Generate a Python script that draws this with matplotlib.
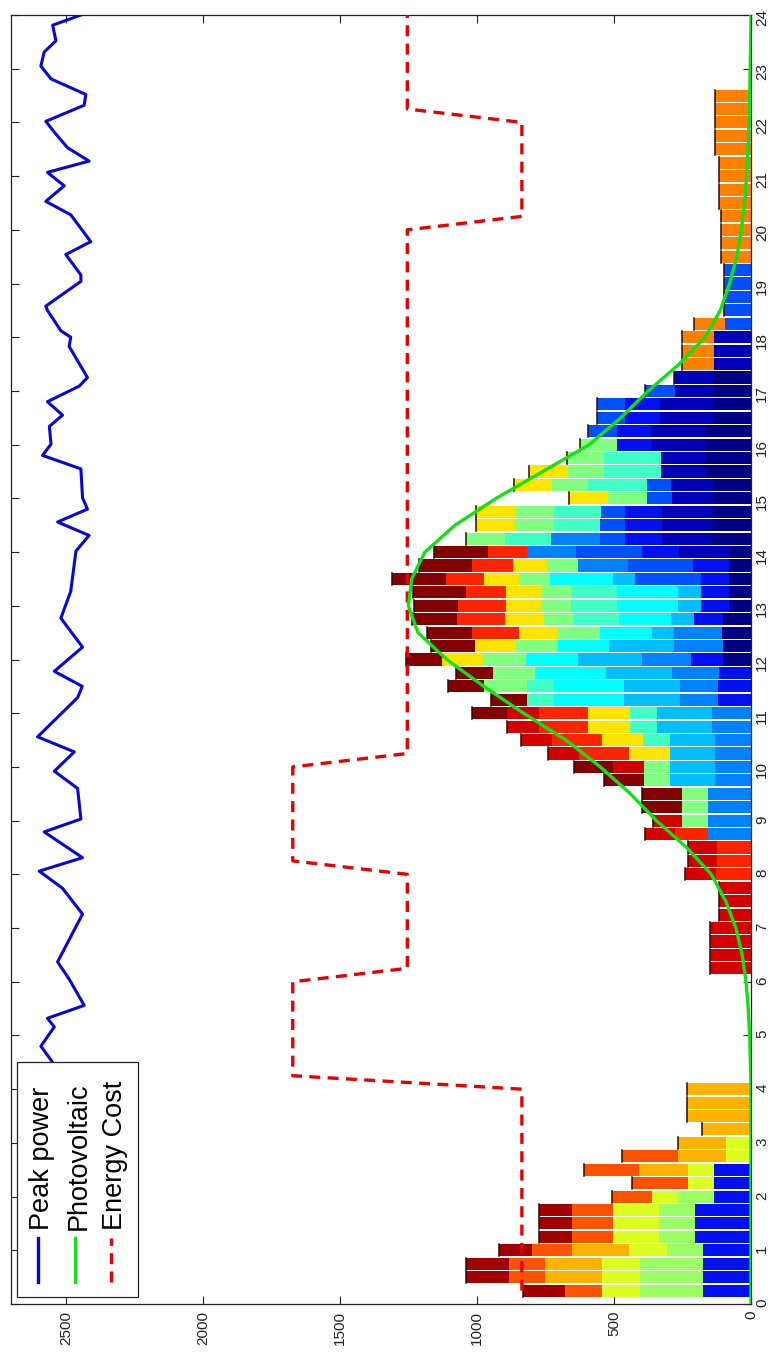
import matplotlib
matplotlib.use("Agg")
import matplotlib.pyplot as plt
from matplotlib.patches import Rectangle
from matplotlib.lines import Line2D

plt.rcParams['font.family'] = ['Liberation Sans', 'DejaVu Sans']

# 15-minute scheduling slots (bar centres, hours)
slots = [0.25 * k for k in range(1, 97)]

# Load power per appliance (W), keyed by slot time
navy = {12.0: 102, 12.25: 102, 12.5: 105, 12.75: 102, 13.0: 81, 13.25: 81, 13.5: 81,
        13.75: 81, 14.0: 81, 14.25: 142, 14.5: 142, 14.75: 138, 15.0: 138, 15.25: 138,
        15.5: 168, 15.75: 168, 16.0: 168, 16.25: 168, 16.5: 138, 16.75: 138, 17.0: 138,
        17.25: 138}
dark_blue = {14.0: 182, 14.25: 184, 14.5: 184, 14.75: 188, 15.0: 152, 15.25: 154,
             15.5: 160, 15.75: 160, 16.0: 197, 16.25: 197, 16.5: 194, 16.75: 194,
             17.0: 140, 17.25: 143, 17.5: 135, 17.75: 135, 18.0: 135}
blue = {0.25: 175, 0.5: 175, 0.75: 175, 1.0: 175, 1.25: 205, 1.5: 205, 1.75: 205,
        2.0: 135, 2.25: 135, 2.5: 135, 11.25: 120, 11.5: 120, 11.75: 118, 12.0: 117,
        12.75: 105, 13.0: 102, 13.25: 102, 13.5: 102, 13.75: 130, 14.0: 133, 14.25: 133,
        14.5: 133, 14.75: 133, 16.0: 125, 16.25: 125, 16.5: 127, 16.75: 127}
mid_blue = {13.5: 242, 13.75: 239, 14.0: 243, 14.25: 91, 14.5: 91, 14.75: 88, 15.0: 91,
            15.25: 89, 16.25: 105, 16.5: 103, 16.75: 103, 17.0: 109, 18.25: 96,
            18.5: 97, 18.75: 97, 19.0: 97, 19.25: 97}
azure = {8.75: 156, 9.0: 156, 9.25: 156, 9.5: 156, 9.75: 132, 10.0: 132, 10.25: 132,
         10.5: 132, 10.75: 144, 11.0: 144, 11.25: 139, 11.5: 139, 11.75: 172, 12.0: 177,
         12.25: 178, 12.5: 175, 13.75: 182, 14.0: 178, 14.25: 178}
sky = {9.75: 164, 10.0: 164, 10.25: 164, 10.5: 164, 10.75: 200, 11.0: 200, 11.25: 206,
       11.5: 206, 11.75: 240, 12.0: 236, 12.25: 238, 12.5: 80, 12.75: 85, 13.0: 85,
       13.25: 85, 13.5: 80}
cyan = {11.25: 255, 11.5: 255, 11.75: 257, 12.0: 189, 12.25: 186, 12.5: 190, 12.75: 189,
        13.0: 222, 13.25: 222, 13.5: 227}
aqua = {10.5: 97, 10.75: 97, 11.0: 97, 11.25: 97, 11.5: 97, 12.75: 163, 13.0: 166,
        13.25: 166, 14.25: 170, 14.5: 170, 14.75: 173, 15.25: 212, 15.5: 207, 15.75: 207}
mint = {9.0: 97, 9.25: 97, 9.5: 97, 9.75: 93, 10.0: 93, 11.5: 158, 11.75: 155, 12.0: 157,
        12.25: 155, 12.5: 154, 12.75: 112, 13.0: 112, 13.25: 112, 13.5: 113, 13.75: 112,
        14.25: 143, 14.5: 142, 14.75: 142, 15.0: 139, 15.25: 133, 15.5: 133, 15.75: 137,
        16.0: 133}
light_green = {0.25: 230, 0.5: 230, 0.75: 230, 1.0: 133, 1.25: 131, 1.5: 131, 1.75: 131,
               2.0: 133}
lime = {0.25: 139, 0.5: 139, 0.75: 139, 1.0: 137, 1.25: 169, 1.5: 169, 1.75: 169,
        2.0: 92, 2.25: 94, 2.5: 94, 2.75: 90, 3.0: 90}
yellow = {10.25: 149, 10.5: 151, 10.75: 152, 11.0: 152, 12.0: 148, 12.25: 148, 12.5: 143,
          12.75: 142, 13.0: 125, 13.25: 125, 13.5: 130, 13.75: 125, 14.5: 143, 14.75: 143,
          15.0: 145, 15.25: 139, 15.5: 143}
amber = {0.5: 206, 0.75: 206, 1.0: 208, 2.5: 178, 2.75: 175, 3.0: 175, 3.25: 177,
         3.5: 235, 3.75: 235, 4.0: 235}
orange = {17.5: 115, 17.75: 115, 18.0: 115, 18.25: 111, 19.5: 108, 19.75: 108, 20.0: 108,
          20.25: 108, 20.5: 118, 20.75: 118, 21.0: 118, 21.25: 118, 21.5: 132, 21.75: 132,
          22.0: 132, 22.25: 132, 22.5: 132}
red_orange = {0.25: 136, 0.5: 134, 0.75: 134, 1.0: 146, 1.25: 148, 1.5: 148, 1.75: 148,
              2.0: 148, 2.25: 204, 2.5: 204, 2.75: 206}
scarlet = {8.0: 126, 8.25: 124, 8.5: 124, 8.75: 122, 10.25: 182, 10.5: 182, 10.75: 182,
           11.0: 182, 12.5: 172, 12.75: 173, 13.0: 175, 13.25: 146, 13.5: 139, 13.75: 148,
           14.0: 142}
red = {6.25: 150, 6.5: 150, 6.75: 150, 7.0: 150, 7.25: 116, 7.5: 116, 7.75: 116, 8.0: 115,
       8.25: 107, 8.5: 107, 8.75: 109, 9.0: 103, 10.0: 113, 10.25: 114, 10.5: 115,
       10.75: 115, 11.0: 115}
crimson = {0.25: 151, 0.5: 157, 0.75: 157, 1.0: 121, 1.25: 122, 1.5: 122, 1.75: 122}
maroon = {9.25: 143, 9.5: 143, 9.75: 146, 10.0: 145, 11.0: 127, 11.25: 133, 11.5: 130,
          11.75: 135, 12.0: 131, 12.25: 162, 12.5: 162, 12.75: 167, 13.0: 161, 13.25: 194,
          13.5: 196, 13.75: 194, 14.0: 197}

# Energy cost profile, one value per slot
cost = ([836] * 16 + [1672] * 8 + [1254] * 8 + [1672] * 8 + [1254] * 40
        + [836] * 8 + [1254] * 8)

# Photovoltaic production
pv_hours = [0, 1, 2, 3, 4, 4.5, 5, 5.5, 6, 6.5, 7, 7.5, 8, 8.5, 9, 9.5, 10, 10.5, 11,
            11.5, 12, 12.5, 13, 13.5, 14, 14.5, 15, 15.5, 16, 16.5, 17, 17.5, 18, 18.5,
            19, 19.5, 20, 20.5, 21, 21.5, 22, 22.5, 23, 23.5, 24]
pv_power = [0, 0, 0, 0, 0, 2, 5, 10, 18, 32, 55, 92, 145, 235, 345, 440, 550, 675, 830,
            975, 1110, 1215, 1250, 1238, 1190, 1080, 930, 760, 590, 475, 375, 262, 168,
            112, 78, 52, 35, 24, 16, 11, 7, 5, 3, 1, 0]

# Peak power limit
peak_hours = [4.5, 4.8, 5.16, 5.32, 5.56, 6.05, 6.37, 7.26, 7.74, 8.06, 8.31, 8.79, 9.03,
              9.6, 9.92, 10.28, 10.56, 11.29, 11.5, 11.78, 12.23, 12.77, 13.27, 14.02,
              14.31, 14.56, 14.8, 15.01, 15.55, 15.8, 16.01, 16.34, 16.55, 16.8, 17.09,
              17.25, 17.83, 18.0, 18.12, 18.5, 18.58, 19.04, 19.16, 19.54, 19.78, 20.28,
              20.53, 20.82, 21.07, 21.28, 21.53, 21.82, 22.02, 22.32, 22.52, 22.81, 23.05,
              23.31, 23.52, 23.81, 24.0]
peak_power = [2548, 2591, 2542, 2567, 2433, 2488, 2530, 2439, 2512, 2597, 2439, 2579, 2445,
              2457, 2542, 2469, 2603, 2457, 2440, 2542, 2439, 2518, 2482, 2463, 2415, 2530,
              2421, 2439, 2445, 2585, 2554, 2560, 2512, 2567, 2451, 2421, 2488, 2482, 2518,
              2567, 2573, 2445, 2445, 2500, 2409, 2482, 2573, 2506, 2567, 2415, 2494, 2542,
              2573, 2433, 2427, 2554, 2591, 2579, 2536, 2548, 2445]

value_ticks = [0, 500, 1000, 1500, 2000, 2500]
hour_ticks = list(range(25))

# stacking order, bottom to top
stack = [
    (navy, '#000086'), (dark_blue, '#0000B8'), (blue, '#0010F0'), (mid_blue, '#0050FF'),
    (azure, '#0082FF'), (sky, '#00BEFF'), (cyan, '#00FFFF'), (aqua, '#40FFC4'),
    (mint, '#80FF80'), (light_green, '#9AFF62'), (lime, '#DCFF22'), (yellow, '#FFE400'),
    (amber, '#FFB200'), (orange, '#FF7F00'), (red_orange, '#FF5200'), (scarlet, '#FF2400'),
    (red, '#D40000'), (crimson, '#A20000'), (maroon, '#820000'),
]

fig = plt.figure(figsize=(7.78, 13.58), dpi=100)
ax = fig.add_axes([11 / 778, 54 / 1358, 740 / 778, 1289 / 1358])

base = [0.0] * len(slots)
for values, color in stack:
    widths = [values.get(s, 0) for s in slots]
    ax.barh(slots, widths, height=0.225, left=base, color=color, linewidth=0, zorder=2)
    base = [b + w for b, w in zip(base, widths)]

for s, total in zip(slots, base):
    if total > 0:
        ax.plot([total, total], [s - 0.112, s + 0.112], color='#2a0c0c', lw=1.1, zorder=3)

ax.plot(cost, slots, color='#E60000', lw=2.4, dashes=(3.3, 2.2), zorder=4)
ax.plot(pv_power, pv_hours, color='#14E014', lw=2.4, zorder=5)
ax.plot(peak_power, peak_hours, color='#0808D4', lw=2.2, zorder=5)

ax.set_xlim(2700, 0)
ax.set_ylim(0, 24)
ax.set_xticks(value_ticks)
ax.set_xticklabels([str(v) for v in value_ticks])
ax.set_yticks(hour_ticks)
ax.set_yticklabels([str(h) for h in hour_ticks])
ax.tick_params(axis='x', direction='in', top=True, bottom=True, length=6, width=0.8,
               labelsize=11, labelrotation=90, pad=5, colors='#222222')
ax.tick_params(axis='y', direction='in', left=True, right=True, labelleft=False,
               labelright=True, length=6, width=0.8, labelsize=11, labelrotation=90,
               pad=3, colors='#222222')
for sp in ax.spines.values():
    sp.set_linewidth(0.9)
    sp.set_color('#222222')

# legend drawn in the rotated frame
aw, ah = 740.0, 1289.0
ax.add_patch(Rectangle((6 / aw, 7 / ah), 121 / aw, 235 / ah, transform=ax.transAxes,
                       facecolor='white', edgecolor='#222222', lw=0.9, zorder=10))
entries = [("Peak power", '#0808D4', None, 27),
           ("Photovoltaic", '#14E014', None, 64),
           ("Energy Cost", '#E60000', (3.3, 2.2), 100)]
for label, color, dash, px in entries:
    ln = Line2D([px / aw, px / aw], [22 / ah, 66 / ah], transform=ax.transAxes,
                color=color, lw=2.4, zorder=11)
    if dash:
        ln.set_dashes(dash)
    ax.add_line(ln)
    ax.text((px + 4) / aw, 74 / ah, label, transform=ax.transAxes, rotation=90,
            ha='center', va='bottom', fontsize=19.5, color='black', zorder=12)

fig.savefig('out.png', dpi=100)
